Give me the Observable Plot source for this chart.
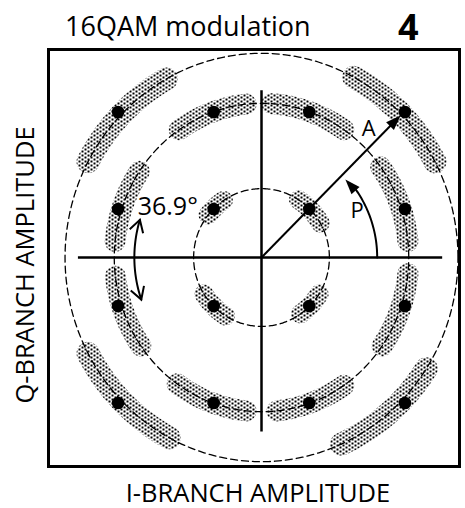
<!DOCTYPE html>
<html><head><meta charset="utf-8">
<script src="https://cdn.jsdelivr.net/npm/d3@7"></script>
<script src="https://cdn.jsdelivr.net/npm/@observablehq/plot@0.6"></script>
<style>
html,body{margin:0;padding:0;background:#fff;}
#wrap{position:relative;width:465px;height:508px;overflow:hidden;font-family:"Open Sans",sans-serif;color:#000;}
#wrap svg{position:absolute;left:0;top:0;}
.t{position:absolute;white-space:nowrap;line-height:1;}
#title{left:65px;top:12px;font-size:27px;}
#num{left:398px;top:9px;font-size:36px;font-weight:bold;}
#xl{left:258px;top:480px;font-size:25.5px;transform:translateX(-50%);}
#yl{left:25px;top:265px;font-size:25.5px;transform:translate(-50%,-50%) rotate(-90deg);}
</style></head><body>
<div id="wrap">
<div class="t" id="title"></div>
<div class="t" id="num"></div>
<div class="t" id="xl"></div>
<div class="t" id="yl"></div>
</div>
<script>
// ---- texts ----
const titleText = "16QAM modulation";
const panelNumber = "4";
const xLabel = "I-BRANCH AMPLITUDE";
const yLabel = "Q-BRANCH AMPLITUDE";
const angleLabel = "36.9°";
const amplitudeLabel = "A";
const phaseLabel = "P";

// ---- constellation points (I, Q) ----
const pointI = [-3, -1, 1, 3, -3, -1, 1, 3, -3, -1, 1, 3, -3, -1, 1, 3];
const pointQ = [3, 3, 3, 3, 1, 1, 1, 1, -1, -1, -1, -1, -3, -3, -3, -3];

// ---- dashed amplitude rings (x / y radius) ----
const ringRx = [1.42, 3.08, 4.11];
const ringRy = [1.42, 3.18, 4.21];

// ---- stippled noise clouds: ring, start angle, end angle (deg) ----
const cloudRing  = [0, 0, 0, 0, 1, 1, 1, 1, 1, 1, 1, 1, 2, 2, 2, 2];
const cloudStart = [30, 124, 212, 305, 6, 56, 96, 146, 187, 235, 276, 325, 28, 119, 208, 294];
const cloudEnd   = [57, 142, 238, 328, 36, 86, 124, 174, 215, 264, 304, 354, 62, 152, 242, 327];

// ---- axes extents ----
const axisI = [-3.83, 3.79];
const axisQ = [-3.6, 3.44];

// ---- annotations ----
const arrowA = {x1: 0, y1: 0, x2: 2.82, y2: 2.84, tipX: 2.91, tipY: 2.93};
const arcP = {r: 2.42, a0: 0, a1: 36, tipR: 2.38, tipA: 42.5};
const arc36 = {r: 2.66, a0: 163, a1: 199};
const labelPos = {A: [2.24, 2.66], P: [2.0, 0.97], ang: [-2.59, 1.05]};

document.getElementById("title").textContent = titleText;
document.getElementById("num").textContent = panelNumber;
document.getElementById("xl").textContent = xLabel;
document.getElementById("yl").textContent = yLabel;

const rad = Math.PI / 180;
function arcPts(rx, ry, a0, a1, id) {
  const n = Math.max(2, Math.ceil(Math.abs(a1 - a0)));
  const out = [];
  for (let i = 0; i <= n; i++) {
    const a = (a0 + (a1 - a0) * i / n) * rad;
    out.push({x: rx * Math.cos(a), y: ry * Math.sin(a), id});
  }
  return out;
}

const points = pointI.map((v, i) => ({x: v, y: pointQ[i]}));
const rings = ringRx.flatMap((rx, i) => arcPts(rx, ringRy[i], 0, 360, i));
const cloudsByRing = [0, 1, 2].map(k =>
  cloudRing.flatMap((ring, i) => ring === k ? arcPts(ringRx[ring], ringRy[ring], cloudStart[i], cloudEnd[i], i) : []));
const cloudWidth = [19, 21, 23];

const pArc = arcPts(arcP.r, arcP.r, arcP.a0, arcP.a1, "p");
const aArc = arcPts(arc36.r, arc36.r, arc36.a0, arc36.a1, "a");

const filledHeads = [
  {x: arrowA.tipX, y: arrowA.tipY, rot: 45},
  {x: arcP.tipR * Math.cos(arcP.tipA * rad), y: arcP.tipR * Math.sin(arcP.tipA * rad), rot: -arcP.tipA}
];
const openHeads = [
  {x: arc36.r * Math.cos(arc36.a0 * rad), y: arc36.r * Math.sin(arc36.a0 * rad), rot: 90 - (arc36.a0 - 90)},
  {x: arc36.r * Math.cos(arc36.a1 * rad), y: arc36.r * Math.sin(arc36.a1 * rad), rot: 90 - (arc36.a1 + 90)}
];

const headFilled = {draw(ctx) { ctx.moveTo(0, 0); ctx.lineTo(-5.5, 15); ctx.lineTo(5.5, 15); ctx.closePath(); }};
const headOpen = {draw(ctx) { ctx.moveTo(-7, 12); ctx.lineTo(0, 0); ctx.lineTo(7, 12); }};

const defs = () => {
  const d = d3.create("svg:defs");
  const p = d.append("pattern").attr("id", "stip").attr("patternUnits", "userSpaceOnUse")
    .attr("x", 0).attr("y", 0).attr("width", 6).attr("height", 4);
  p.append("rect").attr("x", 0).attr("y", 0).attr("width", 2).attr("height", 2)
    .attr("fill", "black").attr("shape-rendering", "crispEdges");
  p.append("rect").attr("x", 3).attr("y", 2).attr("width", 2).attr("height", 2)
    .attr("fill", "black").attr("shape-rendering", "crispEdges");
  return d.node();
};

const plot = Plot.plot({
  width: 465, height: 508,
  marginLeft: 48, marginRight: 6, marginTop: 49, marginBottom: 42,
  x: {domain: [-4.456, 4.142], axis: null},
  y: {domain: [-4.309, 4.289], axis: null},
  style: {background: "transparent", color: "black", fontFamily: "Open Sans"},
  marks: [
    defs,
    ...cloudsByRing.map((data, k) => Plot.line(data, {x: "x", y: "y", z: "id", stroke: "url(#stip)", strokeWidth: cloudWidth[k], strokeLinecap: "round", strokeLinejoin: "round"})),
    Plot.line(rings, {x: "x", y: "y", z: "id", stroke: "black", strokeWidth: 1.3, strokeDasharray: "7,4"}),
    Plot.ruleY([0], {x1: axisI[0], x2: axisI[1], stroke: "black", strokeWidth: 2.5}),
    Plot.ruleX([0], {y1: axisQ[0], y2: axisQ[1], stroke: "black", strokeWidth: 2.5}),
    Plot.link([arrowA], {x1: "x1", y1: "y1", x2: "x2", y2: "y2", stroke: "black", strokeWidth: 2}),
    Plot.line(pArc, {x: "x", y: "y", stroke: "black", strokeWidth: 2}),
    Plot.line(aArc, {x: "x", y: "y", stroke: "black", strokeWidth: 2}),
    Plot.dot(filledHeads, {x: "x", y: "y", rotate: "rot", symbol: headFilled, fill: "black", stroke: "none"}),
    Plot.dot(openHeads, {x: "x", y: "y", rotate: "rot", symbol: headOpen, fill: "none", stroke: "black", strokeWidth: 2}),
    Plot.dot(points, {x: "x", y: "y", r: 6.3, fill: "black"}),
    Plot.text([amplitudeLabel], {x: labelPos.A[0], y: labelPos.A[1], text: d => d, fontSize: 22, textAnchor: "middle", lineAnchor: "middle", fill: "black"}),
    Plot.text([phaseLabel], {x: labelPos.P[0], y: labelPos.P[1], text: d => d, fontSize: 22, textAnchor: "middle", lineAnchor: "middle", fill: "black"}),
    Plot.text([angleLabel], {x: labelPos.ang[0], y: labelPos.ang[1], text: d => d, fontSize: 25, textAnchor: "start", lineAnchor: "middle", fill: "black"}),
    Plot.frame({stroke: "black", strokeWidth: 3})
  ]
});
document.getElementById("wrap").appendChild(plot);
</script>
</body></html>
